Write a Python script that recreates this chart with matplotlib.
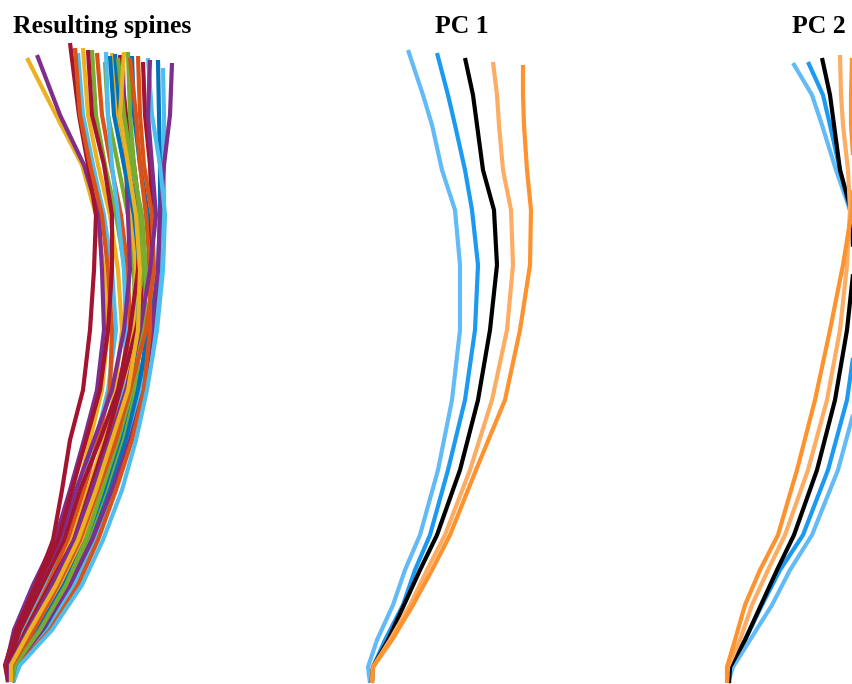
import matplotlib
matplotlib.use("Agg")
import matplotlib.pyplot as plt

# --- Data ---------------------------------------------------------------------
# Lateral position of each spine (offset from the root) at fixed heights above
# the root; the last point of every curve is its own top.

spine_heights = [2, 19, 54, 99, 144, 194, 244, 294, 354, 414, 469, 519, 569]
spine_x = [
    [-1, -2, 10, 30, 52, 68, 80, 92, 98, 94, 86, 72, 46],
    [-2, -4, 4, 23, 45, 60, 74, 87, 94, 92, 89, 74, 50],
    [-2, -5, 6, 26, 43, 52, 60, 73, 80, 84, 86, 78, 69],
    [0, -1, 14, 36, 56, 72, 86, 98, 106, 102, 94, 83, 73],
    [0, 0, 16, 38, 58, 74, 88, 100, 102, 98, 92, 80, 70],
    [1, 1, 18, 42, 62, 78, 94, 105, 112, 108, 100, 88, 78],
    [2, 4, 24, 48, 68, 84, 100, 110, 118, 115, 106, 95, 86],
    [1, 2, 20, 44, 66, 82, 98, 112, 120, 118, 111, 101, 92],
    [2, 5, 28, 53, 74, 90, 106, 118, 125, 124, 118, 108, 98],
    [1, 3, 22, 46, 70, 86, 102, 114, 116, 114, 108, 102, 98],
    [2, 4, 26, 50, 72, 88, 104, 116, 123, 126, 122, 114, 106],
    [2, 6, 30, 56, 78, 96, 112, 124, 132, 134, 128, 118, 110],
    [0, -2, 10, 32, 54, 70, 90, 108, 120, 128, 130, 124, 116],
    [-1, -3, 8, 28, 50, 66, 84, 102, 114, 120, 118, 116, 114],
    [3, 7, 32, 58, 80, 98, 114, 126, 130, 132, 130, 124, 120],
    [3, 8, 34, 60, 82, 100, 116, 128, 138, 142, 138, 130, 124],
    [1, 0, 16, 40, 64, 80, 96, 110, 126, 138, 142, 140, 135],
    [3, 7, 36, 62, 84, 102, 118, 130, 140, 148, 150, 150, 149],
    [3, 9, 38, 64, 86, 104, 120, 132, 144, 152, 154, 154, 154],
    [2, 6, 32, 60, 82, 102, 120, 134, 142, 148, 150, 154, 160],
    [3, 9, 40, 68, 88, 106, 122, 134, 140, 140, 136, 130, 126],
    [3, 10, 42, 72, 93, 112, 126, 137, 147, 153, 155, 150, 142],
    [-1, -2, 8, 28, 48, 62, 76, 90, 98, 102, 102, 94, 82],
    [2, 5, 28, 54, 76, 94, 108, 120, 128, 130, 124, 114, 104],
    [2, 5, 30, 56, 76, 92, 108, 122, 134, 136, 132, 122, 114],
    [1, 2, 24, 48, 70, 88, 106, 120, 136, 144, 142, 134, 130],
    [0, 0, 18, 42, 64, 82, 100, 116, 130, 140, 146, 142, 138],
    [1, 1, 20, 46, 68, 86, 102, 118, 128, 130, 126, 118, 110],
]
spine_top_x = [17, 27, 60, 68, 65, 73, 82, 87, 95, 96, 102, 105, 110, 113,
               118, 122, 133, 148, 153, 162, 120, 138, 78, 100, 108, 128, 140, 114]
spine_top_h = [626, 629, 641, 631, 636, 636, 634, 631, 622, 632, 631, 630, 629, 619,
               632, 628, 622, 624, 616, 621, 626, 626, 634, 628, 626, 628, 624, 632]
spine_group = ["yellow", "purple", "darkred", "cyan", "orange", "yellow", "green",
               "orange", "green", "cyan", "yellow", "blue", "darkred", "purple",
               "green", "blue", "darkred", "blue", "cyan", "purple", "orange",
               "cyan", "darkred", "blue", "green", "orange", "purple", "yellow"]

# Principal-component modes: mean shape and +/- 1, 2 standard deviations
pc_heights = [1, 17, 44, 79, 114, 149, 214, 284, 354, 419, 474, 514, 559, 589]
mean_x = [2, 3, 18, 34, 50, 67, 90, 108, 120, 127, 124, 113, 107, 103, 95]
mean_top_h = 626

pc1_minus2 = [0, -2, 7, 23, 35, 50, 68, 82, 90, 90, 85, 72, 62, 53, 38]
pc1_minus1 = [1, 3, 15, 33, 45, 60, 78, 95, 105, 108, 102, 95, 85, 78, 67]
pc1_plus1 = [2, 3, 20, 40, 57, 75, 100, 122, 137, 143, 141, 133, 129, 127, 123]
pc1_plus2 = [2, 3, 22, 43, 62, 80, 106, 135, 150, 160, 161, 157, 154, 153, 153]
pc1_top_h = [634, 631, 622, 619]

pc2_minus2 = [1, 6, 23, 45, 63, 85, 111, 130, 139, 137, 123, 109, 95, 85, 66]
pc2_minus1 = [1, 3, 18, 35, 53, 76, 101, 120, 130, 131, 123, 113, 103, 96, 81]
pc2_plus1 = [0, 1, 13, 25, 41, 58, 81, 100, 113, 120, 123, 121, 116, 114, 113]
pc2_plus2 = [0, 0, 8, 18, 33, 51, 70, 88, 103, 116, 125, 127, 124, 124, 125]
pc2_top_h = [621, 622, 629, 626]

titles = ["Resulting spines", "PC 1", "PC 2"]

# --- Style --------------------------------------------------------------------

palette = {
    "blue": "#0072BD", "orange": "#D95319", "yellow": "#EDB120",
    "purple": "#7E2F8E", "green": "#77AC30", "cyan": "#4DBEEE",
    "darkred": "#A2142F",
}
mode_colors = ["#62BAF7", "#1C9AF2", "#FDAD63", "#FD922F"]

W, H = 852, 684
panel_root = [10, 370, 727]   # pixel column of each panel's root
LW = 3.0

fig = plt.figure(figsize=(W / 100, H / 100), dpi=100)
axes = []
for root in panel_root:
    ax = fig.add_axes([(root - 20) / W, 0, 220 / W, 1])
    ax.set_xlim(-20, 200)
    ax.set_ylim(0, H)
    ax.axis("off")
    axes.append(ax)

line_kw = dict(lw=LW, solid_joinstyle="miter", solid_capstyle="butt")

# Panel 1: all resulting spines
ax = axes[0]
for xs, tx, th, grp in zip(spine_x, spine_top_x, spine_top_h, spine_group):
    ax.plot(xs + [tx], spine_heights + [th], color=palette[grp], **line_kw)

# Panels 2 and 3: modes of variation around the mean shape
for ax, modes, tops in [
    (axes[1], [pc1_minus2, pc1_minus1, pc1_plus1, pc1_plus2], pc1_top_h),
    (axes[2], [pc2_minus2, pc2_minus1, pc2_plus1, pc2_plus2], pc2_top_h),
]:
    for xs, th, c in zip(modes[:2], tops[:2], mode_colors[:2]):
        ax.plot(xs, pc_heights + [th], color=c, **line_kw)
    ax.plot(mean_x, pc_heights + [mean_top_h], color="black", **line_kw)
    for xs, th, c in zip(modes[2:], tops[2:], mode_colors[2:]):
        ax.plot(xs, pc_heights + [th], color=c, **line_kw)

for ax, title in zip(axes, titles):
    ax.text(92, 651, title, ha="center", va="baseline", fontsize=18.5,
            fontweight="bold", family="Liberation Serif", clip_on=False)

fig.savefig("out.png", dpi=100, facecolor="white")
